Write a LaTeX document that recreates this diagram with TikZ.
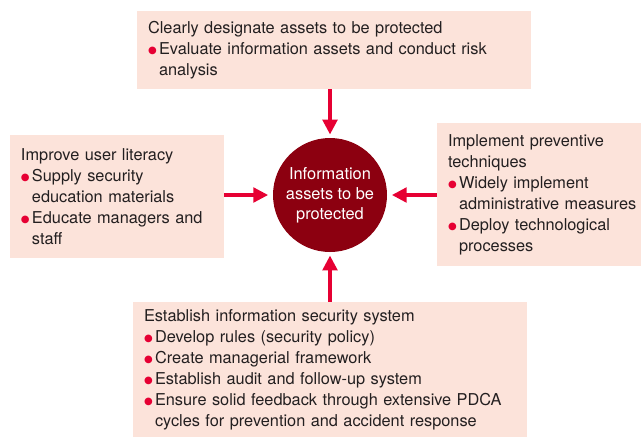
\documentclass[tikz,border=0pt]{standalone}
\usepackage{fontspec}
\setmainfont{TeX Gyre Heros}
\newfontfamily\symf{DejaVu Sans}
\usetikzlibrary{arrows.meta}
\definecolor{boxfill}{HTML}{FCE3DA}
\definecolor{arrred}{HTML}{E60033}
\definecolor{circred}{HTML}{8C0010}
\definecolor{txt}{HTML}{231F20}
\newcommand{\itm}[1]{\mbox{\makebox[8.25pt][l]{\textcolor{arrred}{\raisebox{0.5pt}{\symf\fontsize{7.5pt}{7.5pt}\selectfont ●}}}#1}}
\newcommand{\cnt}[1]{\mbox{\hspace*{8.25pt}#1}}
\newcommand{\ttl}[1]{\mbox{#1}}
\tikzset{
  infobox/.style={fill=boxfill, draw=none, inner xsep=8.25pt, inner ysep=0pt,
    align=left, text=txt, font=\fontsize{12.25pt}{15.75pt}\selectfont},
  core/.style={circle, fill=circred, text=white, minimum size=85.5pt, inner sep=0pt,
    align=center, font=\fontsize{12.3pt}{15pt}\selectfont},
  arr/.style={draw=arrred, line width=2.3pt, -{Triangle[width=11pt,length=11pt]}}
}
\begin{document}
\begin{tikzpicture}[x=0.75pt,y=-0.75pt]
\useasboundingbox (0,0) rectangle (641,437);
\node[infobox, minimum width=295.5pt, minimum height=58.5pt, text width=279pt] (top) at (334,50)
  {\ttl{Clearly designate assets to be protected}\\
   \itm{Evaluate information assets and conduct risk}\\
   \cnt{analysis}};
\node[infobox, minimum width=160.5pt, minimum height=92.25pt, text width=144pt] (left) at (117,196.5)
  {\ttl{Improve user literacy}\\
   \itm{Supply security}\\
   \cnt{education materials}\\
   \itm{Educate managers and}\\
   \cnt{staff}};
\node[infobox, minimum width=153pt, minimum height=107.25pt, text width=136.5pt] (right) at (539,194.5)
  {\ttl{Implement preventive}\\
   \ttl{techniques}\\
   \itm{Widely implement}\\
   \cnt{administrative measures}\\
   \itm{Deploy technological}\\
   \cnt{processes}};
\node[infobox, minimum width=295.5pt, minimum height=101.25pt, text width=279pt] (bottom) at (330,369.5)
  {\ttl{Establish information security system}\\
   \itm{Develop rules (security policy)}\\
   \itm{Create managerial framework}\\
   \itm{Establish audit and follow-up system}\\
   \itm{Ensure solid feedback through extensive PDCA}\\
   \cnt{cycles for prevention and accident response}};
\node[core] (c) at (330,195) {Information\\assets to be\\protected};
\draw[arr, shorten >=2.5pt] (top.south -| c.north) -- (c.north);
\draw[arr, shorten >=2.5pt] (bottom.north -| c.south) -- (c.south);
\draw[arr, shorten >=3.5pt] (left.east |- c.west) -- (c.west);
\draw[arr, shorten >=3.5pt] (right.west |- c.east) -- (c.east);
\end{tikzpicture}
\end{document}
